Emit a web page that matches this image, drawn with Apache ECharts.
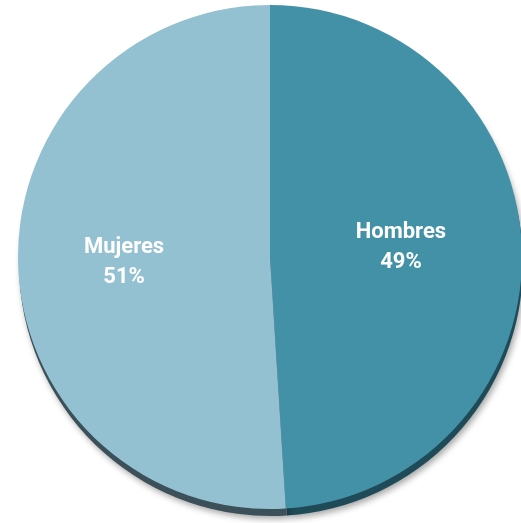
<!DOCTYPE html>
<html>
<head>
<meta charset="utf-8">
<script src="https://cdn.jsdelivr.net/npm/echarts@6/dist/echarts.min.js"></script>
<style>
  html, body { margin: 0; padding: 0; background: #fff; }
  #chart { width: 521px; height: 523px; }
</style>
</head>
<body>
<div id="chart"></div>
<script>
const categories = ["Hombres", "Mujeres"];
const values = [49, 51];

const faceColors = ["#4391a7", "#93c1d2"];
const edgeColors = ["#1f4b59", "#3b5058"];

const chart = echarts.init(document.getElementById("chart"));

const faceData = categories.map((name, i) => ({
  name: name,
  value: values[i],
  itemStyle: { color: faceColors[i] }
}));
const edgeData = categories.map((name, i) => ({
  name: name,
  value: values[i],
  itemStyle: { color: edgeColors[i] }
}));

chart.setOption({
  animation: false,
  series: [
    {
      // dark rim under the face, gives the tilted 3D look
      type: "pie",
      silent: true,
      center: [271, 264],
      radius: 252,
      startAngle: 90,
      clockwise: true,
      label: { show: false },
      labelLine: { show: false },
      itemStyle: {
        shadowBlur: 6,
        shadowOffsetX: 2,
        shadowOffsetY: 3,
        shadowColor: "rgba(0,0,0,0.35)"
      },
      data: edgeData
    },
    {
      type: "pie",
      center: [270, 257],
      radius: 252,
      startAngle: 90,
      clockwise: true,
      label: {
        show: true,
        position: "inside",
        color: "#fff",
        fontFamily: "Roboto",
        fontWeight: "bold",
        fontSize: 22,
        lineHeight: 30,
        formatter: p => p.name + "\n" + p.value + "%"
      },
      labelLine: { show: false },
      labelLayout: function (params) {
        return params.dataIndex === 0 ? { dx: 2, dy: -5 } : { dx: -17, dy: 1 };
      },
      data: faceData
    }
  ]
});
</script>
</body>
</html>
